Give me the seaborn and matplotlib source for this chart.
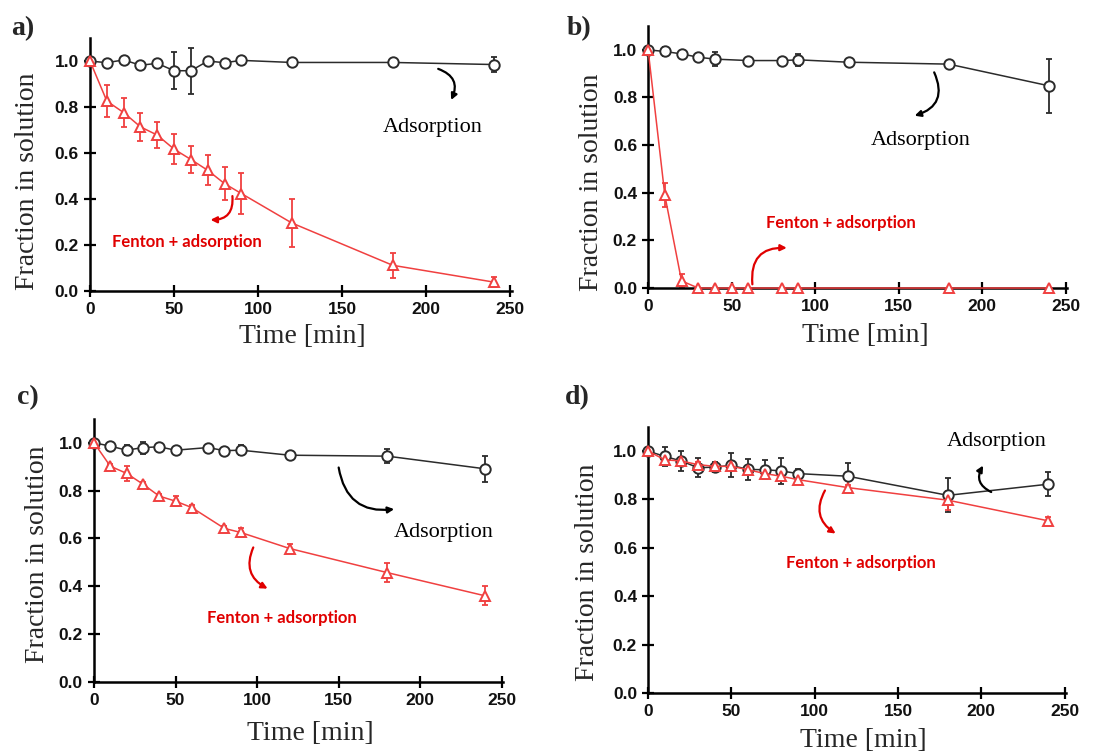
import pandas as pd
import seaborn as sns
import matplotlib.pyplot as plt

# ---- data ----
# a)
t_a = [0, 10, 20, 30, 40, 50, 60, 70, 80, 90, 120, 180, 240]
ads_a = [1.0, 0.993, 1.005, 0.982, 0.99, 0.958, 0.958, 1.0, 0.993, 1.003, 0.994, 0.994, 0.985]
ads_a_err = [0.0, 0.008, 0.008, 0.008, 0.008, 0.08, 0.10, 0.008, 0.008, 0.008, 0.008, 0.008, 0.033]
fen_a = [1.0, 0.826, 0.776, 0.714, 0.678, 0.617, 0.572, 0.525, 0.467, 0.424, 0.296, 0.112, 0.039]
fen_a_err = [0.0, 0.069, 0.064, 0.062, 0.058, 0.064, 0.058, 0.065, 0.071, 0.089, 0.103, 0.055, 0.022]

# b)
t_b_ads = [0, 10, 20, 30, 40, 60, 80, 90, 120, 180, 240]
ads_b = [1.0, 0.993, 0.983, 0.969, 0.961, 0.955, 0.955, 0.958, 0.948, 0.94, 0.849]
ads_b_err = [0.0, 0.02, 0.008, 0.01, 0.03, 0.005, 0.008, 0.025, 0.015, 0.01, 0.113]
t_b_fen = [0, 10, 20, 30, 40, 50, 60, 80, 90, 180, 240]
fen_b = [1.0, 0.39, 0.03, 0.0, 0.0, 0.0, 0.0, 0.0, 0.0, 0.0, 0.0]
fen_b_err = [0.0, 0.05, 0.03, 0.0, 0.0, 0.0, 0.0, 0.0, 0.0, 0.0, 0.0]

# c)
t_c_ads = [0, 10, 20, 30, 40, 50, 70, 80, 90, 120, 180, 240]
ads_c = [1.0, 0.986, 0.969, 0.98, 0.983, 0.969, 0.98, 0.967, 0.969, 0.948, 0.944, 0.891]
ads_c_err = [0.0, 0.005, 0.02, 0.025, 0.005, 0.008, 0.01, 0.005, 0.02, 0.012, 0.03, 0.053]
t_c_fen = [0, 10, 20, 30, 40, 50, 60, 80, 90, 120, 180, 240]
fen_c = [1.0, 0.902, 0.872, 0.827, 0.777, 0.756, 0.729, 0.642, 0.625, 0.558, 0.457, 0.36]
fen_c_err = [0.0, 0.008, 0.03, 0.01, 0.01, 0.02, 0.01, 0.008, 0.02, 0.02, 0.04, 0.04]

# d)
t_d = [0, 10, 20, 30, 40, 50, 60, 70, 80, 90, 120, 180, 240]
ads_d = [1.0, 0.978, 0.959, 0.931, 0.934, 0.941, 0.924, 0.923, 0.918, 0.907, 0.896, 0.817, 0.863]
ads_d_err = [0.0, 0.04, 0.04, 0.04, 0.02, 0.05, 0.045, 0.04, 0.055, 0.02, 0.055, 0.07, 0.05]
fen_d = [1.0, 0.964, 0.959, 0.944, 0.937, 0.937, 0.923, 0.907, 0.896, 0.882, 0.849, 0.797, 0.712]
fen_d_err = [0.0, 0.01, 0.01, 0.01, 0.01, 0.01, 0.01, 0.008, 0.01, 0.008, 0.01, 0.04, 0.015]

x_ticks = [0, 50, 100, 150, 200, 250]
y_ticks = [0.0, 0.2, 0.4, 0.6, 0.8, 1.0]

BLACK = '#2b2b2b'
RED = '#f04040'
TXT_RED = '#e00000'

sns.set_style('ticks')
plt.rcParams['font.family'] = ['Liberation Sans', 'DejaVu Sans']

fig = plt.figure(figsize=(11.06, 7.54), dpi=100)

panels = [
    # label, axes rect, label pos (fig), axis-label coords, series, annotations
    dict(tag='a)', rect=[0.0814, 0.614, 0.3816, 0.3355], tagpos=(0.010, 0.962),
         xl=(0.502, -0.18), yl=(-0.147, 0.435),
         ads=(t_a, ads_a, ads_a_err), fen=(t_a, fen_a, fen_a_err),
         ads_txt=(204, 0.713), ads_arr=((205.5, 0.97), (214, 0.82), -0.6),
         fen_txt=(57.5, 0.213), fen_arr=((84.5, 0.425), (70, 0.31), -0.6)),
    dict(tag='b)', rect=[0.586, 0.618, 0.379, 0.3475], tagpos=(0.512, 0.962),
         xl=(0.518, -0.18), yl=(-0.134, 0.405),
         ads=(t_b_ads, ads_b, ads_b_err), fen=(t_b_fen, fen_b, fen_b_err),
         ads_txt=(163.5, 0.618), ads_arr=((170.6, 0.916), (158, 0.72), -0.6),
         fen_txt=(115.7, 0.273), fen_arr=((62.6, 0.004), (84.7, 0.168), -0.6)),
    dict(tag='c)', rect=[0.085, 0.0955, 0.370, 0.349], tagpos=(0.015, 0.473),
         xl=(0.528, -0.194), yl=(-0.139, 0.487),
         ads=(t_c_ads, ads_c, ads_c_err), fen=(t_c_fen, fen_c, fen_c_err),
         ads_txt=(214.5, 0.623), ads_arr=((149.8, 0.908), (185.8, 0.724), 0.5),
         fen_txt=(115.5, 0.268), fen_arr=((98.4, 0.573), (108, 0.385), 0.5)),
    dict(tag='d)', rect=[0.586, 0.081, 0.378, 0.3528], tagpos=(0.511, 0.473),
         xl=(0.514, -0.177), yl=(-0.144, 0.455),
         ads=(t_d, ads_d, ads_d_err), fen=(t_d, fen_d, fen_d_err),
         ads_txt=(209, 1.04), ads_arr=((207.5, 0.826), (202, 0.95), -0.6),
         fen_txt=(128, 0.537), fen_arr=((107, 0.847), (114, 0.653), 0.5)),
]

for p in panels:
    ax = fig.add_axes(p['rect'])
    t1, y1, e1 = p['ads']
    t2, y2, e2 = p['fen']
    df_ads = pd.DataFrame({'time': t1, 'frac': y1})
    df_fen = pd.DataFrame({'time': t2, 'frac': y2})

    ax.errorbar(t1, y1, yerr=e1, fmt='none', ecolor=BLACK, elinewidth=1.3,
                capsize=2.5, capthick=1.3, zorder=2, clip_on=False)
    ax.errorbar(t2, y2, yerr=e2, fmt='none', ecolor=RED, elinewidth=1.3,
                capsize=2.5, capthick=1.3, zorder=2, clip_on=False)

    sns.lineplot(data=df_ads, x='time', y='frac', ax=ax, color=BLACK, lw=1.1,
                 marker='o', markersize=7.5, markerfacecolor='white',
                 markeredgecolor=BLACK, markeredgewidth=1.4, zorder=3,
                 clip_on=False)
    sns.lineplot(data=df_fen, x='time', y='frac', ax=ax, color=RED, lw=1.1,
                 marker='^', markersize=7.5, markerfacecolor='white',
                 markeredgecolor=RED, markeredgewidth=1.4, zorder=4,
                 clip_on=False)

    ax.set_xlim(0, 251)
    ax.set_ylim(0, 1.1)
    ax.set_xticks(x_ticks)
    ax.set_yticks(y_ticks)
    ax.set_yticklabels([f'{v:.1f}' for v in y_ticks])
    for lab in ax.get_xticklabels() + ax.get_yticklabels():
        lab.set_fontweight('bold')
        lab.set_fontsize(12.5)
        lab.set_color('#111111')
    ax.tick_params(direction='inout', length=8, width=1.6, color='black', pad=4)
    sns.despine(ax=ax)
    for s in ('left', 'bottom'):
        ax.spines[s].set_linewidth(1.8)
        ax.spines[s].set_color('black')
    ax.set_facecolor('white')

    ax.set_xlabel('Time [min]', family='Liberation Serif', fontsize=20, va='center')
    ax.set_ylabel('Fraction in solution', family='Liberation Serif', fontsize=20, va='center')
    ax.xaxis.set_label_coords(*p['xl'])
    ax.yaxis.set_label_coords(*p['yl'])

    ax.text(*p['ads_txt'], 'Adsorption', family='Liberation Serif', fontsize=16,
            ha='center', va='center', color='black')
    ax.text(*p['fen_txt'], 'Fenton + adsorption', family='Lato', fontweight='bold',
            fontsize=12, ha='center', va='center', color=TXT_RED)

    (s, e, r) = p['ads_arr']
    ax.annotate('', xy=e, xytext=s,
                arrowprops=dict(arrowstyle='-|>', color='black', lw=1.6,
                                mutation_scale=9,
                                connectionstyle=f'arc3,rad={r}'))
    (s, e, r) = p['fen_arr']
    ax.annotate('', xy=e, xytext=s,
                arrowprops=dict(arrowstyle='-|>', color=TXT_RED, lw=1.6,
                                mutation_scale=9,
                                connectionstyle=f'arc3,rad={r}'))

    fig.text(*p['tagpos'], p['tag'], family='Liberation Serif', fontweight='bold',
             fontsize=20, ha='left', va='center')

fig.savefig('out.png', dpi=100, facecolor='white')
